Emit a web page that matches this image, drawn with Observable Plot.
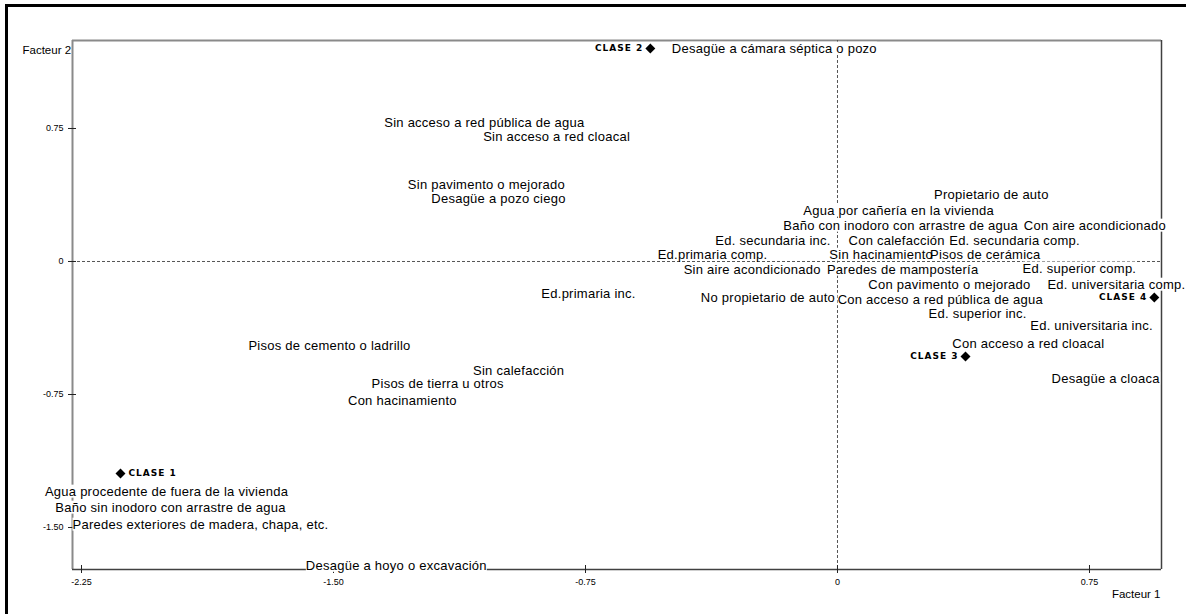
<!DOCTYPE html>
<html>
<head>
<meta charset="utf-8">
<script src="https://cdn.jsdelivr.net/npm/d3@7"></script>
<script src="https://cdn.jsdelivr.net/npm/@observablehq/plot@0.6"></script>
<style>
  html, body { margin: 0; padding: 0; background: #fff; }
  #wrap { position: relative; width: 1186px; height: 614px; overflow: hidden; }
  #border { position: absolute; left: 5px; top: 4px; width: 1200px; height: 640px; border-left: 3px solid #000; border-top: 3px solid #000; pointer-events: none; }
  svg { font-family: "Liberation Sans", Arial, sans-serif; }
</style>
</head>
<body>
<div id="wrap"><div id="chart"></div><div id="border"></div></div>
<script>
// Modalities (labels) and their coordinates on factor 1 (x) and factor 2 (y)
const labels = [
  "Desagüe a cámara séptica o pozo",
  "Sin acceso a red pública de agua",
  "Sin acceso a red cloacal",
  "Sin pavimento o mejorado",
  "Desagüe a pozo ciego",
  "Propietario de auto",
  "Agua por cañería en la vivienda",
  "Baño con inodoro con arrastre de agua",
  "Con aire acondicionado",
  "Ed. secundaria inc.",
  "Con calefacción",
  "Ed. secundaria comp.",
  "Ed.primaria comp.",
  "Sin hacinamiento",
  "Pisos de cerámica",
  "Sin aire acondicionado",
  "Paredes de mampostería",
  "Ed. superior comp.",
  "Con pavimento o mejorado",
  "Ed. universitaria comp.",
  "Ed.primaria inc.",
  "No propietario de auto",
  "Con acceso a red pública de agua",
  "Ed. superior inc.",
  "Ed. universitaria inc.",
  "Con acceso a red cloacal",
  "Desagüe a cloaca",
  "Pisos de cemento o ladrillo",
  "Sin calefacción",
  "Pisos de tierra u otros",
  "Con hacinamiento",
  "Agua procedente de fuera de la vivienda",
  "Baño sin inodoro con arrastre de agua",
  "Paredes exteriores de madera, chapa, etc.",
  "Desagüe a hoyo o excavación"
];
const factor1 = [
  -0.188, -1.051, -0.836, -1.045, -1.009, 0.458, 0.182, 0.188, 0.766, -0.192,
  0.176, 0.527, -0.372, 0.130, 0.440, -0.254, 0.194, 0.720, 0.333, 0.830,
  -0.741, -0.207, 0.306, 0.417, 0.756, 0.568, 0.798, -1.512, -0.949, -1.190,
  -1.295, -1.997, -1.985, -1.896, -1.313
];
const factor2 = [
  1.201, 0.784, 0.705, 0.434, 0.355, 0.378, 0.288, 0.203, 0.203, 0.118,
  0.118, 0.118, 0.039, 0.039, 0.039, -0.045, -0.045, -0.039, -0.130, -0.130,
  -0.180, -0.203, -0.214, -0.293, -0.361, -0.462, -0.660, -0.474, -0.615, -0.688,
  -0.784, -1.297, -1.387, -1.483, -1.715
];

// Classes (cluster centres)
const classes = ["CLASE 1", "CLASE 2", "CLASE 3", "CLASE 4"];
const classF1 = [-2.134, -0.557, 0.381, 0.943];
const classF2 = [-1.196, 1.201, -0.536, -0.203];
const classSide = ["right", "left", "left", "left"];

// Axes
const xTicks = [-2.25, -1.5, -0.75, 0, 0.75];
const xTickText = ["-2.25", "-1.50", "-0.75", "0", "0.75"];
const yTicks = [-1.5, -0.75, 0, 0.75];
const yTickText = ["-1.50", "-0.75", "0", "0.75"];
const xDomain = [-2.2768, 0.9643];
const yDomain = [-1.7368, 1.2462];
const xTitle = "Facteur 1";
const yTitle = "Facteur 2";

const points = labels.map((t, i) => ({label: t, x: factor1[i], y: factor2[i]}));
const centres = classes.map((c, i) => ({label: c, x: classF1[i], y: classF2[i], side: classSide[i]}));
const xFmt = new Map(xTicks.map((v, i) => [v, xTickText[i]]));
const yFmt = new Map(yTicks.map((v, i) => [v, yTickText[i]]));

const svg = Plot.plot({
  width: 1186,
  height: 614,
  marginLeft: 72,
  marginRight: 25,
  marginTop: 40,
  marginBottom: 45,
  style: {fontFamily: "'Liberation Sans', Arial, sans-serif", background: "transparent", overflow: "visible"},
  x: {domain: xDomain, axis: null},
  y: {domain: yDomain, axis: null},
  marks: [
    // frame: light top/left, dark bottom/right
    Plot.ruleY([yDomain[1]], {stroke: "#8a8a8a", strokeWidth: 2}),
    Plot.ruleX([xDomain[0]], {stroke: "#8a8a8a", strokeWidth: 2}),
    Plot.ruleY([yDomain[0]], {stroke: "#404040", strokeWidth: 1.5}),
    Plot.ruleX([xDomain[1]], {stroke: "#404040", strokeWidth: 1.5}),
    // origin lines
    Plot.ruleX([0], {stroke: "#555", strokeDasharray: "3,2"}),
    Plot.ruleY([0], {stroke: "#555", strokeDasharray: "3,2"}),
    // axes
    Plot.axisX({ticks: xTicks, tickFormat: d => xFmt.get(d), tickSize: 8, tickPadding: 5, dy: -4,
      fontSize: 9, stroke: "#222", fill: "#000", label: null}),
    Plot.axisY({ticks: yTicks, tickFormat: d => yFmt.get(d), tickSize: 8, tickPadding: 5, dx: 4,
      fontSize: 9, stroke: "#222", fill: "#000", label: null}),
    // axis titles
    Plot.text([yTitle], {frameAnchor: "top-left", textAnchor: "start", dx: -50, dy: 5, fontSize: 11.5, fill: "#000"}),
    Plot.text([xTitle], {frameAnchor: "bottom-right", textAnchor: "end", dx: -1, dy: 28, fontSize: 11.5, fill: "#000"}),
    // modality labels
    Plot.text(points, {x: "x", y: "y", text: "label", fontSize: 13, fill: "#000", ariaDescription: "labels"}),
    // class centres
    Plot.dot(centres, {x: "x", y: "y", symbol: "diamond2", r: 4.5, fill: "#000", stroke: "none"}),
    Plot.text(centres.filter(d => d.side === "left"), {x: "x", y: "y", text: "label", textAnchor: "end", dx: -7,
      fontSize: 9, fontWeight: "bold", fontFamily: "'DejaVu Sans', sans-serif", fill: "#000", ariaDescription: "classlabels"}),
    Plot.text(centres.filter(d => d.side === "right"), {x: "x", y: "y", text: "label", textAnchor: "start", dx: 8,
      fontSize: 9, fontWeight: "bold", fontFamily: "'DejaVu Sans', sans-serif", fill: "#000", ariaDescription: "classlabels"})
  ]
});

document.getElementById("chart").append(svg);

// slightly wider letter spacing, like the bitmap font of the original
for (const t of svg.querySelectorAll('g[aria-description="labels"] text')) t.style.letterSpacing = "0.25px";
for (const t of svg.querySelectorAll('g[aria-description="classlabels"] text')) t.style.letterSpacing = "1px";

// white boxes behind labels (they mask the frame and origin lines)
const ns = "http://www.w3.org/2000/svg";
const groups = [...svg.querySelectorAll('g[aria-description="labels"], g[aria-description="classlabels"]')];
for (const g of groups) {
  const bg = document.createElementNS(ns, "g");
  if (g.getAttribute("transform")) bg.setAttribute("transform", g.getAttribute("transform"));
  for (const t of g.querySelectorAll("text")) {
    const b = t.getBBox();
    const r = document.createElementNS(ns, "rect");
    r.setAttribute("x", b.x);
    r.setAttribute("y", b.y + 1);
    r.setAttribute("width", b.width);
    r.setAttribute("height", Math.max(0, b.height - 2));
    r.setAttribute("fill", "#fff");
    if (t.getAttribute("transform")) r.setAttribute("transform", t.getAttribute("transform"));
    bg.append(r);
  }
  if (groups.length) groups[0].parentNode.insertBefore(bg, groups[0]);
}
</script>
</body>
</html>
